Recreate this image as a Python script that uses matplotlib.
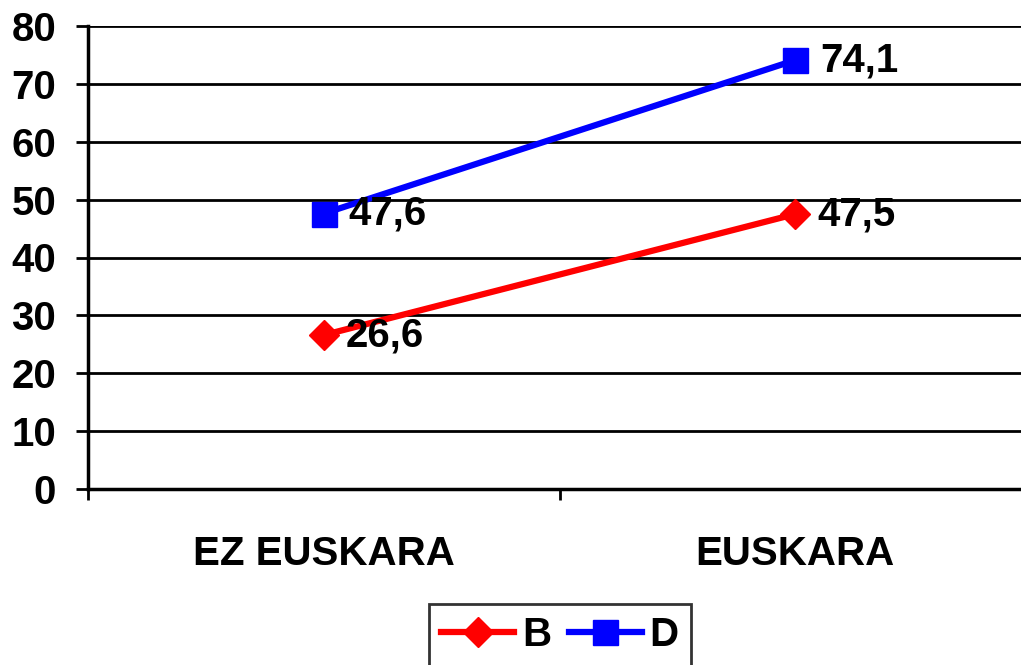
import matplotlib.pyplot as plt

categories = ['EZ EUSKARA', 'EUSKARA']
b_values = [26.6, 47.5]
d_values = [47.6, 74.1]
y_ticks = [0, 10, 20, 30, 40, 50, 60, 70, 80]

plt.rcParams['font.family'] = ['Liberation Sans', 'DejaVu Sans']
plt.rcParams['font.weight'] = 'bold'
FS = 29

fig = plt.figure(figsize=(10.21, 6.65), dpi=100)
ax = fig.add_axes([88 / 1021, 1 - 489 / 665, 943 / 1021, (489 - 26) / 665])

x = [0.5, 1.5]
ax.plot(x, b_values, color='#ff0000', lw=4.5, marker='D', ms=15, label='B', zorder=3)
ax.plot(x, d_values, color='#0000ff', lw=4.5, marker='s', ms=18, label='D', zorder=3)

for xi, v in zip(x, b_values):
    ax.annotate(f'{v:.1f}'.replace('.', ','), (xi, v), xytext=(16, 0), textcoords='offset points',
                ha='left', va='center', fontsize=FS, fontweight='bold', zorder=4)
for xi, v in zip(x, d_values):
    ax.annotate(f'{v:.1f}'.replace('.', ','), (xi, v), xytext=(18, 0), textcoords='offset points',
                ha='left', va='center', fontsize=FS, fontweight='bold', zorder=4)

ax.set_xlim(0, 2)
ax.set_ylim(0, 80)
ax.set_yticks(y_ticks)
ax.set_yticklabels([str(t) for t in y_ticks], fontsize=FS, fontweight='bold')
ax.set_xticks([0, 1, 2])
ax.set_xticklabels([])
ax.set_xticks(x, minor=True)
ax.set_xticklabels(categories, minor=True, fontsize=FS, fontweight='bold')
ax.tick_params(axis='x', which='minor', length=0, pad=33)
ax.tick_params(axis='x', which='major', length=8, width=2, direction='out')
ax.tick_params(axis='y', length=9, width=2, direction='out', pad=14)

ax.grid(axis='y', color='black', lw=2)
ax.set_axisbelow(True)
for s in ['top', 'right']:
    ax.spines[s].set_visible(False)
ax.spines['left'].set_linewidth(2.5)
ax.spines['bottom'].set_linewidth(2.5)

leg = fig.legend(loc='upper center', bbox_to_anchor=(560 / 1021, 1 - 604 / 665), ncol=2,
                 numpoints=1, frameon=True, fancybox=False,
                 handlelength=1.8, handletextpad=0.2, columnspacing=0.45,
                 borderpad=0.3, borderaxespad=0, prop={'weight': 'bold', 'size': FS})
leg.get_frame().set_edgecolor('black')
leg.get_frame().set_linewidth(2)

fig.savefig('out.png', dpi=100)
